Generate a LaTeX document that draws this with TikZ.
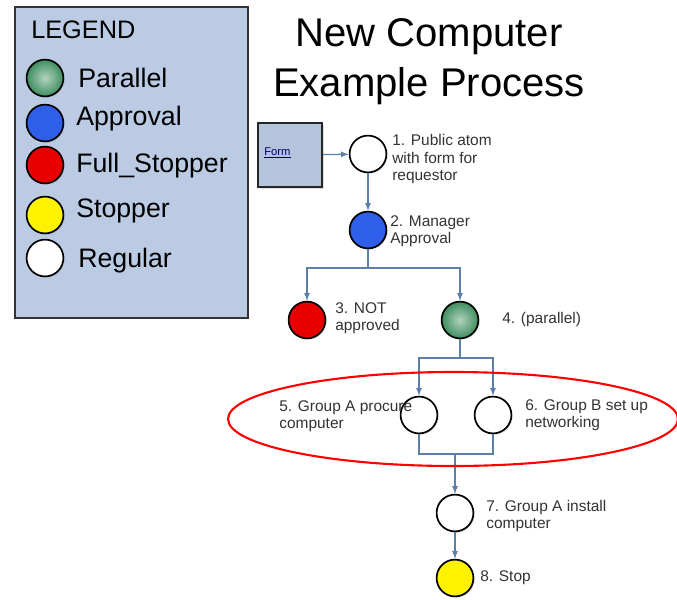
\documentclass[tikz,border=0pt]{standalone}
\usepackage{fontspec}
\setmainfont{Liberation Sans}
\usetikzlibrary{positioning, shadows}
\definecolor{flowblue}{HTML}{5B7FA8}
\definecolor{legfill}{HTML}{BACBE3}
\definecolor{formfill}{HTML}{B4C4DC}
\definecolor{pargreen}{HTML}{3E8E5E}
\definecolor{appblue}{HTML}{2F5FE8}
\definecolor{stopred}{HTML}{E80000}
\definecolor{stopyellow}{HTML}{FFF200}

\begin{document}
\begin{tikzpicture}[x=0.025cm, y=-0.025cm, >=latex,
  atom/.style={circle, draw=black, line width=1.2pt, minimum size=0.92cm, inner sep=0pt,
    drop shadow={opacity=0.2, shadow xshift=1pt, shadow yshift=-1pt}},
  flow/.style={draw=flowblue, line width=0.9pt},
  lbl/.style={anchor=west, align=left, inner sep=0pt, text=black!80,
    font=\fontsize{11}{12.5}\selectfont},
  leg/.style={anchor=west, inner sep=0pt, font=\fontsize{19}{22}\selectfont}]
\useasboundingbox (0,0) rectangle (677,599);

\draw [line width=1.2pt, draw=black!80, fill=legfill] (15,7) rectangle (248,318);
\node [anchor=west, inner sep=0pt, font=\fontsize{18}{20}\selectfont] (legtitle) at (31,30) {LEGEND};
\node [atom, shade, inner color=pargreen!40, outer color=pargreen] (kpar) at (45,78) {};
\node [atom, fill=appblue] (kapp) at (45,123) {};
\node [atom, fill=stopred] (kfull) at (45,165) {};
\node [atom, fill=stopyellow] (kstop) at (45,215) {};
\node [atom, fill=white] (kreg) at (45,258) {};
\node [leg] (tpar) at (78,78) {Parallel};
\node [leg] (tapp) at (76,119) {Approval};
\node [leg] (tfull) at (76,166) {Full\_Stopper};
\node [leg] (tstop) at (76,211) {Stopper};
\node [leg] (treg) at (78,261) {Regular};

\node [align=center, inner sep=0pt, font=\fontsize{28.5}{35.5}\selectfont] (title) at (429,62) {New Computer\\Example Process};

\node [draw=black!85, line width=1.2pt, fill=formfill, minimum width=1.6cm, minimum height=1.6cm,
  drop shadow={opacity=0.25, shadow xshift=1.5pt, shadow yshift=-1.5pt}] (form) at (290,155) {};
\node [anchor=west, inner sep=0pt, font=\fontsize{8}{9}\selectfont, text=blue!40!black] (formtxt) at (264,153) {\underline{Form}};

\node [atom, fill=white] (n1) at (368,154) {};
\node [atom, fill=appblue] (n2) at (368,230) {};
\node [atom, fill=stopred] (n3) at (307,320) {};
\node [atom, shade, inner color=pargreen!40, outer color=pargreen] (n4) at (460,320) {};
\node [atom, fill=white] (n5) at (419,415) {};
\node [atom, fill=white] (n6) at (493,415) {};
\node [atom, fill=white] (n7) at (455,513) {};
\node [atom, fill=stopyellow] (n8) at (455,578) {};

\node [lbl] (l1) at (392,159) {1. Public atom\\with form for\\requestor};
\node [lbl] (l2) at (390,231) {2. Manager\\Approval};
\node [lbl] (l3) at (335,318) {3. NOT\\approved};
\node [lbl] (l4) at (502,319) {4. (parallel)};
\node [lbl] (l5) at (279,416) {5. Group A procure\\computer};
\node [lbl] (l6) at (525,415) {6. Group B set up\\networking};
\node [lbl] (l7) at (486,516) {7. Group A install\\computer};
\node [lbl] (l8) at (480,578) {8. Stop};

\coordinate (b1) at (368,268);
\coordinate (b2) at (460,358);
\coordinate (j1) at (455,454);

\draw [flow, ->] (form) -- (n1);
\draw [flow, ->] (n1) -- (n2);
\draw [flow] (n2) -- (b1);
\draw [flow, ->] (b1) -| (n3);
\draw [flow, ->] (b1) -| (n4);
\draw [flow] (n4) -- (b2);
\draw [flow, ->] (b2) -| (n5);
\draw [flow, ->] (b2) -| (n6);
\draw [flow] (n5) |- (j1) -| (n6);
\draw [flow, ->] (j1) -- (n7);
\draw [flow, ->] (n7) -- (n8);

\draw [red, line width=1.5pt] (453,419) ellipse [x radius=225, y radius=47];
\end{tikzpicture}
\end{document}
